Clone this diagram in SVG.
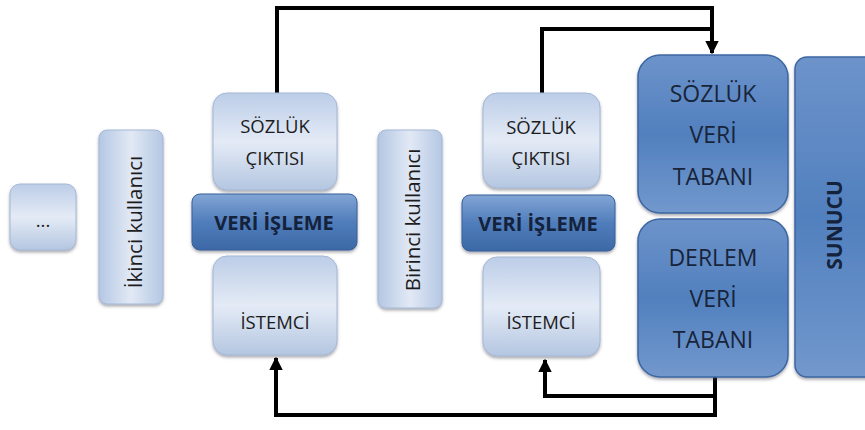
<svg xmlns="http://www.w3.org/2000/svg" width="865" height="430" viewBox="0 0 865 430">
  <defs>
    <linearGradient id="gLight" x1="0" y1="0" x2="0" y2="1">
      <stop offset="0" stop-color="#bccde7"/>
      <stop offset="0.5" stop-color="#e4ebf6"/>
      <stop offset="1" stop-color="#b4c6e1"/>
    </linearGradient>
    <linearGradient id="gLightV" x1="0" y1="0" x2="1" y2="0">
      <stop offset="0" stop-color="#b4c7e3"/>
      <stop offset="0.5" stop-color="#e2e9f5"/>
      <stop offset="1" stop-color="#b4c7e3"/>
    </linearGradient>
    <linearGradient id="gDark" x1="0" y1="0" x2="0" y2="1">
      <stop offset="0" stop-color="#6d93ca"/>
      <stop offset="0.5" stop-color="#5180be"/>
      <stop offset="1" stop-color="#7298cd"/>
    </linearGradient>
    <linearGradient id="gBar" x1="0" y1="0" x2="0" y2="1">
      <stop offset="0" stop-color="#82a5d5"/>
      <stop offset="0.5" stop-color="#507dbb"/>
      <stop offset="1" stop-color="#3c68a6"/>
    </linearGradient>
    <filter id="shadow" x="-10%" y="-10%" width="120%" height="130%">
      <feDropShadow dx="0" dy="2" stdDeviation="1.5" flood-color="#445" flood-opacity="0.45"/>
    </filter>
    <marker id="arrow" viewBox="0 0 10 10" refX="9" refY="5" markerWidth="3.4" markerHeight="3.4" orient="auto" markerUnits="strokeWidth">
      <path d="M0,0 L10,5 L0,10 Z" fill="#000"/>
    </marker>
  </defs>
  <style>
    .light { fill: url(#gLight); stroke: #a3b8d6; stroke-width: 1; filter: url(#shadow); }
    .lightv { fill: url(#gLightV); stroke: #a3b8d6; stroke-width: 1; filter: url(#shadow); }
    .dark { fill: url(#gDark); stroke: #3d67a2; stroke-width: 1.5; filter: url(#shadow); }
    .bar { fill: url(#gBar); stroke: #36609c; stroke-width: 1; filter: url(#shadow); }
    .t { font-family: "Open Sans", "Liberation Sans", sans-serif; fill: #1c1c1c; text-anchor: middle; }
    .s17 { font-size: 18.5px; }
    .s20 { font-size: 20.5px; }
    .s22 { font-size: 23px; fill: #18243a; }
    .b { font-weight: bold; fill: #14223c; }
    .conn { fill: none; stroke: #000; stroke-width: 4; }
  </style>

  <!-- connectors -->
  <g id="connectors">
    <path class="conn" d="M277,93 V8 H712 V53" marker-end="url(#arrow)"/>
    <path class="conn" d="M542,93 V29 H712"/>
    <path class="conn" d="M715,377 V415 H276 V358" marker-end="url(#arrow)"/>
    <path class="conn" d="M715,396 H545 V360" marker-end="url(#arrow)"/>
  </g>

  <!-- further users -->
  <g id="more-users">
    <rect class="light" x="10" y="184" width="66" height="66" rx="10"/>
    <text class="t s17" x="43" y="227">...</text>
  </g>

  <!-- second user -->
  <g id="second-user">
    <rect class="lightv" x="99" y="130" width="64" height="174" rx="8"/>
    <text class="t s20" transform="translate(142,222) rotate(-90)">İkinci kullanıcı</text>
  </g>

  <!-- second user stack -->
  <g id="left-dict-output">
    <rect class="light" x="213" y="93" width="124" height="97" rx="14"/>
    <text class="t s17" x="275" y="133">SÖZLÜK</text>
    <text class="t s17" x="275" y="165">ÇIKTISI</text>
  </g>
  <g id="left-client">
    <rect class="light" x="213" y="256" width="124" height="99" rx="14"/>
    <text class="t s17" x="275" y="329">İSTEMCİ</text>
  </g>
  <g id="left-processing">
    <rect class="bar" x="192" y="194" width="165" height="56" rx="8"/>
    <text class="t b" x="274" y="230" style="font-size:20px">VERİ İŞLEME</text>
  </g>

  <!-- first user -->
  <g id="first-user">
    <rect class="lightv" x="378" y="130" width="64" height="178" rx="8"/>
    <text class="t s20" transform="translate(420,220) rotate(-90)">Birinci kullanıcı</text>
  </g>

  <!-- first user stack -->
  <g id="right-dict-output">
    <rect class="light" x="483" y="93" width="117" height="95" rx="14"/>
    <text class="t s17" x="541" y="134">SÖZLÜK</text>
    <text class="t s17" x="541" y="165">ÇIKTISI</text>
  </g>
  <g id="right-client">
    <rect class="light" x="483" y="257" width="117" height="99" rx="14"/>
    <text class="t s17" x="541" y="329">İSTEMCİ</text>
  </g>
  <g id="right-processing">
    <rect class="bar" x="462" y="195" width="153" height="56" rx="8"/>
    <text class="t b" x="538" y="231" style="font-size:20px">VERİ İŞLEME</text>
  </g>

  <!-- databases -->
  <g id="dict-db">
    <rect class="dark" x="638" y="55" width="150" height="158" rx="22"/>
    <text class="t s22" x="713" y="102">SÖZLÜK</text>
    <text class="t s22" x="713" y="143">VERİ</text>
    <text class="t s22" x="713" y="185">TABANI</text>
  </g>
  <g id="corpus-db">
    <rect class="dark" x="638" y="219" width="150" height="158" rx="22"/>
    <text class="t s22" x="713" y="266">DERLEM</text>
    <text class="t s22" x="713" y="307">VERİ</text>
    <text class="t s22" x="713" y="348">TABANI</text>
  </g>

  <!-- server -->
  <g id="server">
    <rect class="dark" x="795" y="57" width="90" height="320" rx="12"/>
    <text class="t b" style="font-size:21px" transform="translate(842,225) rotate(-90)">SUNUCU</text>
  </g>
</svg>
